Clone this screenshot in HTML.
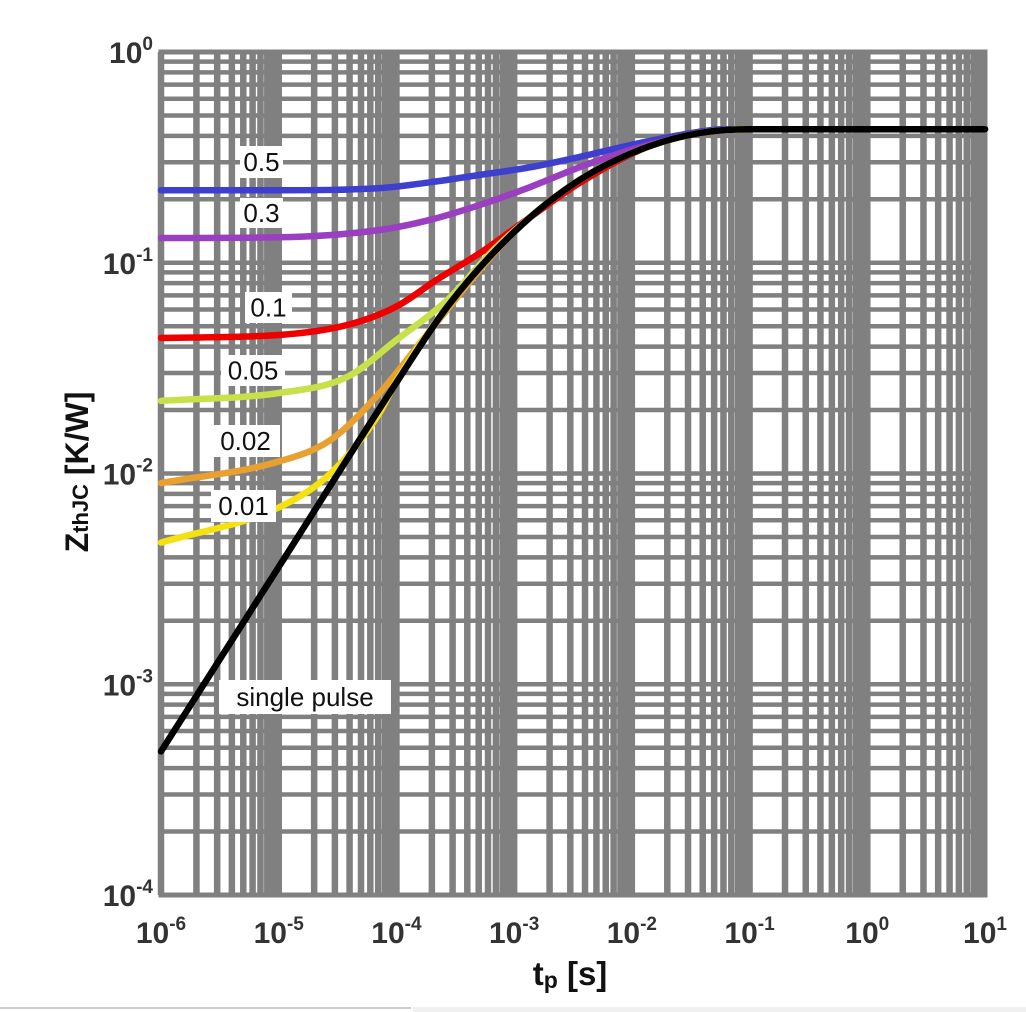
<!DOCTYPE html>
<html><head><meta charset="utf-8"><style>
html,body{margin:0;padding:0;background:#fff;}
svg{display:block;font-family:"Liberation Sans",Arial,sans-serif;}
</style></head><body>
<svg id="chart" width="1026" height="1012" viewBox="0 0 1026 1012" xmlns="http://www.w3.org/2000/svg">
<g id="grid"></g>
<g id="curves"></g>
<g id="labels"></g>
<g id="axes"></g>
<text x="570" y="985" text-anchor="middle" font-size="33" font-weight="bold" fill="#111">t<tspan font-size="23" dy="3">p</tspan><tspan dy="-3"> [s]</tspan></text>
<text transform="translate(88,472) rotate(-90)" text-anchor="middle" font-size="32" font-weight="bold" fill="#111">Z<tspan font-size="22">thJC</tspan> [K/W]</text>
<line x1="0" y1="1008" x2="411" y2="1008" stroke="#bbb" stroke-width="1.5"/>
<rect x="413" y="1007" width="613" height="5" fill="#f0f0f0"/>
</svg>
<script>
const xExpMin = -6, xExpMax = 1, yExpMin = -4, yExpMax = 0;
const xTickExps = [-6,-5,-4,-3,-2,-1,0,1];
const yTickExps = [0,-1,-2,-3,-4];
const tSingle = [1e-6,1e-5,1e-4,2.7e-4,1e-3,3.6e-3,1.35e-2,3.8e-2,0.1,10];
const zSingle = [4.8e-4,3.6e-3,0.027,0.0617,0.14,0.247,0.354,0.413,0.43,0.43];
const tD01 = [1e-6,1e-5,2.75e-5,7.2e-5,1e-4,2.7e-4,1e-3,3.6e-3,1.35e-2,3.8e-2,0.1,10];
const zD01 = [0.0047,0.0069,0.01,0.0194,0.0275,0.0617,0.14,0.247,0.354,0.413,0.43,0.43];
const tD02 = [1e-6,1e-5,2.75e-5,7.2e-5,1.95e-4,1e-3,3.6e-3,1.35e-2,3.8e-2,0.1,10];
const zD02 = [0.009,0.0114,0.0144,0.0241,0.048,0.14,0.247,0.354,0.413,0.43,0.43];
const tD05 = [1e-6,1e-5,3.8e-5,1e-4,2.7e-4,7.1e-4,3.6e-3,1.35e-2,3.8e-2,0.1,10];
const zD05 = [0.0221,0.0241,0.0287,0.043,0.0665,0.119,0.247,0.354,0.413,0.43,0.43];
const tD1 = [1e-6,1e-5,4e-5,1e-4,2.2e-4,5.1e-4,1.38e-3,3.6e-3,1.35e-2,3.8e-2,0.1,10];
const zD1 = [0.044,0.0454,0.051,0.062,0.083,0.111,0.165,0.239,0.354,0.413,0.43,0.43];
const tD3 = [1e-6,1e-5,7.2e-5,1.95e-4,5.1e-4,1.38e-3,3.6e-3,9.8e-3,2.6e-2,0.06,0.1,10];
const zD3 = [0.131,0.132,0.143,0.16,0.188,0.229,0.284,0.343,0.395,0.425,0.43,0.43];
const tD5 = [1e-6,1e-5,7.2e-5,1.95e-4,5.1e-4,1.38e-3,3.6e-3,9.8e-3,2.6e-2,0.06,0.1,10];
const zD5 = [0.221,0.221,0.226,0.241,0.261,0.284,0.318,0.362,0.404,0.43,0.43,0.43];
const seriesNames = ['0.5','0.3','0.1','0.05','0.02','0.01','single pulse'];

const L=161,R=985,T=52,B=895;
const NS='http://www.w3.org/2000/svg';
function xs(t){return L+(Math.log10(t)-xExpMin)/(xExpMax-xExpMin)*(R-L);}
function ys(z){return T+(yExpMax-Math.log10(z))/(yExpMax-yExpMin)*(B-T);}
function mk(tag,attrs,parent){const e=document.createElementNS(NS,tag);for(const k in attrs)e.setAttribute(k,attrs[k]);parent.appendChild(e);return e;}

const grid=document.getElementById('grid');
for(let e=yExpMin;e<yExpMax;e++){for(let m=1;m<10;m++){const y=ys(m*Math.pow(10,e));
const ln=mk('line',{x1:L,x2:R,y1:y,y2:y,stroke:'#808080','stroke-width':4.5},grid);

}}
for(let e=xExpMin;e<xExpMax;e++){for(let m=1;m<10;m++){const x=xs(m*Math.pow(10,e));
const ln=mk('line',{x1:x,x2:x,y1:T,y2:B,stroke:'#808080','stroke-width':6.5},grid);

}}
const border=mk('rect',{x:L,y:T,width:R-L,height:B-T,fill:'none',stroke:'#808080','stroke-width':5},grid);



function pathFor(ts,zs){const X=ts.map(xs),Y=zs.map(ys),n=X.length;
const d=[],m=[];for(let i=0;i<n-1;i++)d.push((Y[i+1]-Y[i])/(X[i+1]-X[i]));
m[0]=d[0];m[n-1]=d[n-2];for(let i=1;i<n-1;i++){m[i]=(d[i-1]*d[i]<=0)?0:(d[i-1]+d[i])/2;}
for(let i=0;i<n-1;i++){if(d[i]===0){m[i]=0;m[i+1]=0;continue;}const a=m[i]/d[i],b=m[i+1]/d[i],s=a*a+b*b;if(s>9){const tt=3/Math.sqrt(s);m[i]=tt*a*d[i];m[i+1]=tt*b*d[i];}}
let p='M'+X[0].toFixed(1)+','+Y[0].toFixed(1);
for(let i=0;i<n-1;i++){const h=(X[i+1]-X[i])/3;p+=' C'+(X[i]+h).toFixed(1)+','+(Y[i]+m[i]*h).toFixed(1)+' '+(X[i+1]-h).toFixed(1)+','+(Y[i+1]-m[i+1]*h).toFixed(1)+' '+X[i+1].toFixed(1)+','+Y[i+1].toFixed(1);}
return p;}
const curves=document.getElementById('curves');
const defs=[[tD5,zD5,'#3f3fcf','curve-d05'],[tD3,zD3,'#9a3fc0','curve-d03'],[tD1,zD1,'#ee0000','curve-d01'],[tD05,zD05,'#c8e04a','curve-d005'],[tD02,zD02,'#e8a030','curve-d002'],[tD01,zD01,'#f5e010','curve-d001'],[tSingle,zSingle,'#000000','curve-single-pulse']];
defs.forEach(s=>{const p=mk('path',{d:pathFor(s[0],s[1]),fill:'none',stroke:s[2],'stroke-width':6.5,'stroke-linecap':'round'},curves);

});

const labels=document.getElementById('labels');
const boxes=[[240,146,43,32,seriesNames[0]],[240,198,43,30,seriesNames[1]],[245,292,47,31,seriesNames[2]],[221,355,64,31,seriesNames[3]],[211,425,69,32,seriesNames[4]],[211,490,65,32,seriesNames[5]],[219,680,172,34,seriesNames[6]]];
boxes.forEach(b=>{const r=mk('rect',{x:b[0],y:b[1],width:b[2],height:b[3],fill:'#fff'},labels);


const t=mk('text',{x:b[0]+b[2]/2,y:b[1]+b[3]/2+9,'text-anchor':'middle','font-size':26,fill:'#111'},labels);


t.textContent=b[4];});

const axes=document.getElementById('axes');
xTickExps.forEach(e=>{const x=xs(Math.pow(10,e));
const t=mk('text',{x:x,y:943,'text-anchor':'middle','font-size':30,'font-weight':'bold',fill:'#333'},axes);


t.innerHTML='10<tspan font-size="19" dy="-13">'+e+'</tspan>';});
yTickExps.forEach(e=>{const y=ys(Math.pow(10,e));
const t=mk('text',{x:153,y:y+11,'text-anchor':'end','font-size':30,'font-weight':'bold',fill:'#333'},axes);


t.innerHTML='10<tspan font-size="19" dy="-13">'+e+'</tspan>';});
</script>
</body></html>
